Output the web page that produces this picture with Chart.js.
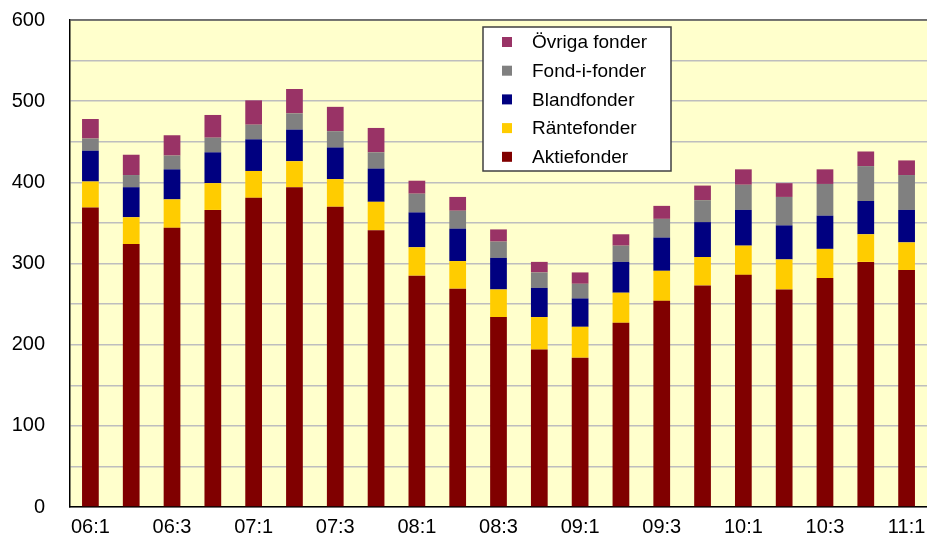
<!DOCTYPE html>
<html>
<head>
<meta charset="utf-8">
<script src="https://cdn.jsdelivr.net/npm/chart.js@4/dist/chart.umd.min.js"></script>
<style>
  html, body { margin: 0; padding: 0; background: #fff; }
  #wrap { width: 927px; height: 543px; position: relative; }
</style>
</head>
<body>
<div id="wrap"><canvas id="chartBars"></canvas></div>
<script>
let quarters = ["06:1", "06:2", "06:3", "06:4", "07:1", "07:2", "07:3", "07:4",
  "08:1", "08:2", "08:3", "08:4", "09:1", "09:2", "09:3", "09:4",
  "10:1", "10:2", "10:3", "10:4", "11:1"];
let aktiefonder = [369, 324, 344, 366, 381, 394, 370, 341, 285, 269, 234, 194, 184, 227, 254, 273, 286, 268, 282, 302, 292];
let rantefonder = [32, 33, 35, 33, 33, 32, 34, 35, 35, 34, 34, 40, 38, 37, 37, 35, 36, 37, 36, 34, 34];
let blandfonder = [38, 37, 37, 38, 39, 39, 39, 41, 43, 40, 39, 36, 35, 38, 41, 43, 44, 42, 41, 41, 40];
let fondIFonder = [15, 15, 17, 18, 18, 20, 20, 20, 23, 22, 20, 19, 18, 20, 23, 27, 31, 35, 39, 43, 43];
let ovrigaFonder = [24, 25, 25, 28, 30, 30, 30, 30, 16, 17, 15, 13, 14, 14, 16, 18, 19, 17, 18, 18, 18];
let yTicks = [0, 100, 200, 300, 400, 500, 600];

// plot background + top border
const plotBg = {
  id: "plotBg",
  beforeDraw(chart) {
    const { ctx, chartArea: a } = chart;
    ctx.save();
    ctx.fillStyle = "#FFFFCC";
    ctx.fillRect(a.left, a.top, a.right - a.left, a.bottom - a.top);
    ctx.restore();
  },
  afterDraw(chart) {
    const { ctx, chartArea: a } = chart;
    ctx.save();
    ctx.strokeStyle = "#555";
    ctx.lineWidth = 1.5;
    ctx.beginPath();
    ctx.moveTo(a.left, a.top);
    ctx.lineTo(a.right, a.top);
    ctx.stroke();
    ctx.restore();
  },
};

// legend box inside the plot, reversed order like the original
const boxLegend = {
  id: "boxLegend",
  afterDraw(chart) {
    const ctx = chart.ctx;
    const x = 483, y = 27, w = 188, h = 144;
    ctx.save();
    ctx.fillStyle = "#fff";
    ctx.fillRect(x, y, w, h);
    ctx.strokeStyle = "#404040";
    ctx.lineWidth = 1.5;
    ctx.strokeRect(x, y, w, h);
    ctx.font = "19px 'Liberation Sans', Arial, sans-serif";
    ctx.textBaseline = "middle";
    let sets = chart.data.datasets.slice().reverse();
    sets.forEach((ds, i) => {
      let cy = y + 15 + i * 28.7;
      ctx.fillStyle = ds.backgroundColor;
      ctx.fillRect(x + 19, cy - 5, 10, 10);
      ctx.fillStyle = "#000";
      ctx.fillText(ds.label, x + 49, cy + 1);
    });
    ctx.restore();
  },
};

const configBarChart = {
  type: "bar",
  data: {
    labels: quarters,
    datasets: [
      { label: "Aktiefonder", data: aktiefonder, backgroundColor: "#800000" },
      { label: "Räntefonder", data: rantefonder, backgroundColor: "#FFCC00" },
      { label: "Blandfonder", data: blandfonder, backgroundColor: "#000080" },
      { label: "Fond-i-fonder", data: fondIFonder, backgroundColor: "#808080" },
      { label: "Övriga fonder", data: ovrigaFonder, backgroundColor: "#993366" },
    ],
  },
  options: {
    responsive: true,
    maintainAspectRatio: false,
    animation: false,
    layout: { padding: { top: 20, right: 0, left: 0, bottom: 0 } },
    datasets: { bar: { categoryPercentage: 1, barPercentage: 0.41 } },
    plugins: { legend: { display: false }, tooltip: { enabled: false } },
    scales: {
      x: {
        stacked: true,
        grid: { display: false, drawTicks: false },
        border: { color: "#000", width: 1.5 },
        ticks: {
          autoSkip: false,
          maxRotation: 0,
          padding: 8,
          color: "#000",
          font: { family: "'Liberation Sans', Arial, sans-serif", size: 20 },
          callback: (v, i) => (i % 2 === 0 ? quarters[i] : ""),
        },
        afterFit: (s) => { s.height = 36; s.paddingLeft = 0; s.paddingRight = 0; },
      },
      y: {
        stacked: true,
        min: 0,
        max: 600,
        grid: { color: "#BEBEBE", lineWidth: 1.5, drawTicks: false },
        border: { color: "#000", width: 1.5 },
        ticks: {
          stepSize: 50,
          padding: 25,
          color: "#000",
          font: { family: "'Liberation Sans', Arial, sans-serif", size: 20 },
          callback: (v) => (yTicks.includes(v) ? v : ""),
        },
        afterFit: (s) => { s.width = 70; s.paddingTop = 0; s.paddingBottom = 0; },
      },
    },
  },
  plugins: [plotBg, boxLegend],
};

new Chart(document.getElementById("chartBars"), configBarChart);
</script>
</body>
</html>
